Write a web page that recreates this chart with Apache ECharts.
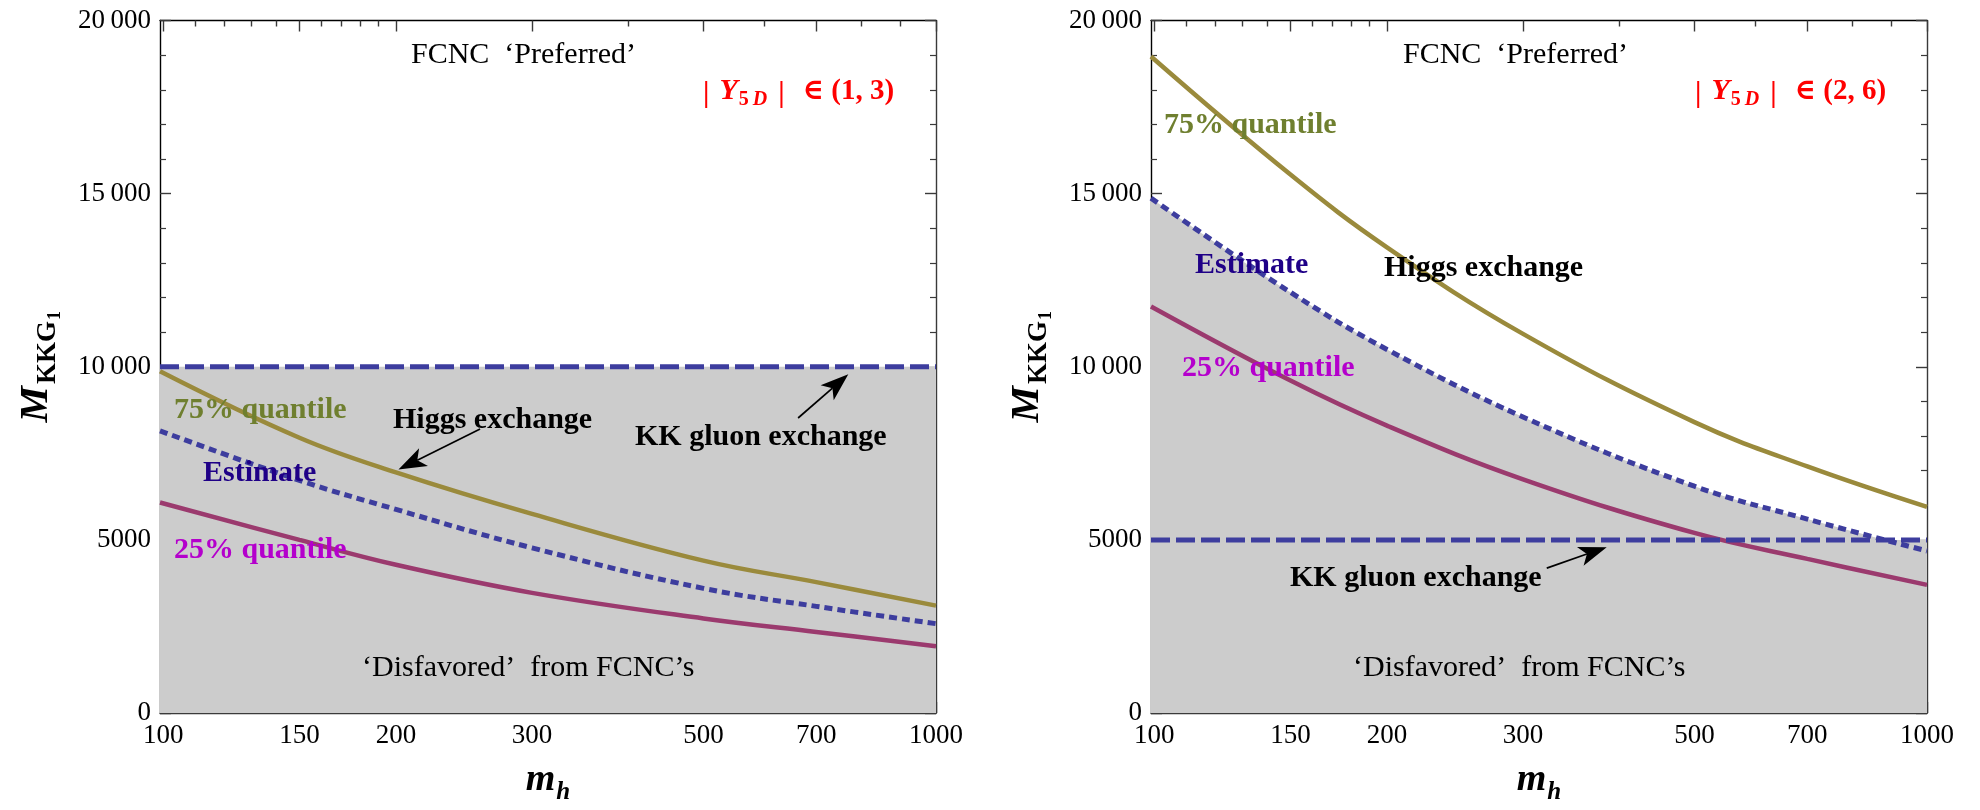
<!DOCTYPE html>
<html><head><meta charset="utf-8">
<script src="https://cdn.jsdelivr.net/npm/echarts@6/dist/echarts.min.js"></script>
<style>html,body{margin:0;padding:0;background:#fff}#c{width:1980px;height:810px}</style>
</head><body><div id="c"></div>
<script>
// ---------------- data ----------------
const mh = [99, 150, 200, 300, 500, 700, 1000];
// Left panel |Y5D| in (1,3)
const q75Left = [9870, 7950, 6950, 5750, 4400, 3780, 3100];
const estLeft = [8150, 6720, 5880, 4770, 3600, 3080, 2580];
const q25Left = [6080, 5000, 4280, 3470, 2730, 2340, 1930];
const kkLeft = 10000;
// Right panel |Y5D| in (2,6)
const q75Right = [18960, 15550, 13450, 10950, 8400, 7120, 5950];
const estRight = [14870, 12150, 10500, 8550, 6550, 5600, 4680];
const q25Right = [11740, 9600, 8300, 6750, 5200, 4450, 3700];
const kkRight = 5000;
// ticks
const xMajorTicks = [100, 150, 200, 300, 500, 700, 1000];
const xMinorTicks = [110, 120, 130, 140, 160, 170, 180, 190, 400, 600, 800, 900];
const yRange = [0, 20000];
const yStep = 5000;
const rangeLabels = ['(1, 3)', '(2, 6)'];

// ---------------- styles ----------------
const SERIF = "'Liberation Serif', 'DejaVu Serif', serif";
const FRAME = '#3a3a3a';
const FILL = '#cccccc';
const C75 = '#9a8a3c', C25 = '#9b3a6e', CBLUE = '#3d3d9e';
const T75 = '#6f7f2f', T25 = '#b400cc', TEST = '#1f0087';

const chart = echarts.init(document.getElementById('c'), null, {renderer: 'canvas'});
const zip = (xs, ys) => xs.map((x, i) => [x, ys[i]]);
const fmtY = v => v >= 10000 ? String(v).slice(0, -3) + '\u2009' + String(v).slice(-3) : String(v);

const grids = [
  {left: 160, top: 20.5, width: 776, height: 697},
  {left: 1151, top: 20.5, width: 776, height: 697}
];

function xAxes(g) {
  const base = {type: 'log', logBase: 10, gridIndex: g, min: 99, max: 1000,
    splitLine: {show: false}, minorTick: {show: false}, minorSplitLine: {show: false}};
  const tickStyle = {color: FRAME, width: 1.4};
  return [
    Object.assign({}, base, {position: 'bottom',
      axisLine: {show: true, onZero: false, lineStyle: {color: FRAME, width: 1.4}},
      axisTick: {show: true, inside: true, length: 11, customValues: xMajorTicks, lineStyle: tickStyle},
      axisLabel: {show: true, customValues: xMajorTicks, formatter: v => String(Math.round(v)),
        fontFamily: SERIF, fontSize: 27, color: '#000', margin: 9},
      name: '{m|m}{h|h}', nameLocation: 'middle', nameGap: 48,
      nameTextStyle: {rich: {
        m: {fontFamily: SERIF, fontSize: 38, fontWeight: 'bold', fontStyle: 'italic', color: '#000', verticalAlign: 'bottom', padding: [0, 0, 6, 0]},
        h: {fontFamily: SERIF, fontSize: 25, fontWeight: 'bold', fontStyle: 'italic', color: '#000', verticalAlign: 'bottom', padding: [0, 0, 0, 1]}
      }}}),
    Object.assign({}, base, {position: 'bottom',
      axisLine: {show: false, onZero: false},
      axisTick: {show: true, inside: true, length: 6, customValues: xMinorTicks, lineStyle: tickStyle},
      axisLabel: {show: false}}),
    Object.assign({}, base, {position: 'top',
      axisLine: {show: true, onZero: false, lineStyle: {color: '#000', width: 1.4}},
      axisTick: {show: true, inside: true, length: 11, customValues: xMajorTicks, lineStyle: tickStyle},
      axisLabel: {show: false}}),
    Object.assign({}, base, {position: 'top',
      axisLine: {show: false, onZero: false},
      axisTick: {show: true, inside: true, length: 6, customValues: xMinorTicks, lineStyle: tickStyle},
      axisLabel: {show: false}})
  ];
}

function yAxes(g) {
  const base = {type: 'value', gridIndex: g, min: yRange[0], max: yRange[1], interval: yStep,
    splitLine: {show: false},
    minorTick: {show: true, splitNumber: 5, length: 6, lineStyle: {color: FRAME, width: 1.2}},
    axisTick: {show: true, inside: true, length: 11, lineStyle: {color: FRAME, width: 1.4}}};
  return [
    Object.assign({}, base, {position: 'left',
      axisLine: {show: true, onZero: false, lineStyle: {color: '#000', width: 1.4}},
      axisLabel: {formatter: fmtY, fontFamily: SERIF, fontSize: 27, color: '#000', margin: 9},
      name: '{M|M}{s|KKG}{ss|1}', nameLocation: 'middle', nameRotate: 90, nameGap: 96,
      nameTextStyle: {rich: {
        M: {fontFamily: SERIF, fontSize: 41, fontWeight: 'bold', fontStyle: 'italic', color: '#000', verticalAlign: 'bottom', padding: [0, 2, 7, 0]},
        s: {fontFamily: SERIF, fontSize: 27, fontWeight: 'bold', color: '#000', verticalAlign: 'bottom', padding: [0, 0, 2, 0]},
        ss: {fontFamily: SERIF, fontSize: 18, fontWeight: 'bold', color: '#000', verticalAlign: 'bottom', padding: [0, 0, 0, 1]}
      }}}),
    Object.assign({}, base, {position: 'right',
      axisLine: {show: true, onZero: false, lineStyle: {color: FRAME, width: 1.4}},
      axisLabel: {show: false}})
  ];
}

function panelSeries(g, q75, est, q25, kk) {
  const xi = g * 4, yi = g * 2;
  const common = {type: 'line', xAxisIndex: xi, yAxisIndex: yi, showSymbol: false, symbol: 'none', silent: true, animation: false};
  const kkData = [[mh[0], kk], [mh[mh.length - 1], kk]];
  return [
    Object.assign({}, common, {name: 'fillEst', data: zip(mh, est), smooth: 0.4,
      lineStyle: {width: 0, opacity: 0}, areaStyle: {color: FILL, opacity: 1}}),
    Object.assign({}, common, {name: 'fillKK', data: kkData,
      lineStyle: {width: 0, opacity: 0}, areaStyle: {color: FILL, opacity: 1}}),
    Object.assign({}, common, {name: '75% quantile', data: zip(mh, q75), smooth: 0.4,
      lineStyle: {color: C75, width: 4.5}}),
    Object.assign({}, common, {name: '25% quantile', data: zip(mh, q25), smooth: 0.4,
      lineStyle: {color: C25, width: 4.5}}),
    Object.assign({}, common, {name: 'KK gluon exchange', data: kkData,
      lineStyle: {color: CBLUE, width: 5, type: [19, 6], cap: 'butt'}}),
    Object.assign({}, common, {name: 'Estimate', data: zip(mh, est), smooth: 0.4,
      lineStyle: {color: CBLUE, width: 5, type: [8, 5], cap: 'butt'}})
  ];
}

chart.setOption({
  backgroundColor: '#ffffff',
  animation: false,
  grid: grids,
  xAxis: xAxes(0).concat(xAxes(1)),
  yAxis: yAxes(0).concat(yAxes(1)),
  series: panelSeries(0, q75Left, estLeft, q25Left, kkLeft)
    .concat(panelSeries(1, q75Right, estRight, q25Right, kkRight))
});

// ---------------- annotations ----------------
function txt(text, x, y, opt) {
  return {type: 'text', x: x, y: y, z: 100, silent: true,
    style: Object.assign({text: text, fontFamily: SERIF, fontSize: 30, fill: '#000',
      align: 'left', verticalAlign: 'middle'}, opt || {})};
}
function redLabel(range, x, y) {
  return {type: 'text', x: x, y: y, z: 100, silent: true,
    style: {text: '{b||}{Y|Y}{s|5}{d|D}{b||}{t|\u2208 ' + range + '}', align: 'left', verticalAlign: 'middle',
      rich: {
        b: {fontFamily: SERIF, fontSize: 29, fontWeight: 'bold', fill: '#ff0000', padding: [0, 10, 0, 0], verticalAlign: 'bottom'},
        Y: {fontFamily: SERIF, fontSize: 30, fontWeight: 'bold', fontStyle: 'italic', fill: '#ff0000', padding: [0, 1, 3, 0], verticalAlign: 'bottom'},
        s: {fontFamily: SERIF, fontSize: 20, fontWeight: 'bold', fill: '#ff0000', padding: [0, 4, 0, 0], verticalAlign: 'bottom'},
        d: {fontFamily: SERIF, fontSize: 20, fontWeight: 'bold', fontStyle: 'italic', fill: '#ff0000', padding: [0, 11, 0, 0], verticalAlign: 'bottom'},
        t: {fontFamily: SERIF, fontSize: 29, fontWeight: 'bold', fill: '#ff0000', padding: [0, 0, 3, 8], verticalAlign: 'bottom'}
      }}};
}
function arrow(g, tail, tip) {
  const p0 = chart.convertToPixel({xAxisIndex: g * 4, yAxisIndex: g * 2}, tail);
  const p1 = chart.convertToPixel({xAxisIndex: g * 4, yAxisIndex: g * 2}, tip);
  const dx = p1[0] - p0[0], dy = p1[1] - p0[1], len = Math.hypot(dx, dy);
  const ux = dx / len, uy = dy / len, nx = -uy, ny = ux;
  const L = 28, W = 10, notch = 7;
  const bx = p1[0] - ux * L, by = p1[1] - uy * L;
  const mx = p1[0] - ux * (L - notch), my = p1[1] - uy * (L - notch);
  return [
    {type: 'line', z: 100, silent: true, shape: {x1: p0[0], y1: p0[1], x2: mx, y2: my}, style: {stroke: '#000', lineWidth: 1.7}},
    {type: 'polygon', z: 100, silent: true, shape: {points: [[p1[0], p1[1]], [bx + nx * W, by + ny * W], [mx, my], [bx - nx * W, by - ny * W]]}, style: {fill: '#000'}}
  ];
}

const B = {fontWeight: 'bold'};
const graphics = [
  // left panel
  txt('FCNC  \u2018Preferred\u2019', 411, 55),
  redLabel(rangeLabels[0], 703, 93),
  txt('75% quantile', 174, 410, Object.assign({fill: T75}, B)),
  txt('Higgs exchange', 393, 420, B),
  txt('Estimate', 203, 473, Object.assign({fill: TEST}, B)),
  txt('25% quantile', 174, 550, Object.assign({fill: T25}, B)),
  txt('KK gluon exchange', 635, 437, B),
  txt('\u2018Disfavored\u2019  from FCNC\u2019s', 362, 668),
  // right panel
  txt('FCNC  \u2018Preferred\u2019', 1403, 55),
  redLabel(rangeLabels[1], 1695, 93),
  txt('75% quantile', 1164, 125, Object.assign({fill: T75}, B)),
  txt('Estimate', 1195, 265, Object.assign({fill: TEST}, B)),
  txt('Higgs exchange', 1384, 268, B),
  txt('25% quantile', 1182, 368, Object.assign({fill: T25}, B)),
  txt('KK gluon exchange', 1290, 578, B),
  txt('\u2018Disfavored\u2019  from FCNC\u2019s', 1353, 668)
].concat(
  arrow(0, [257, 8200], [201.5, 7030]),
  arrow(0, [663, 8520], [770, 9780]),
  arrow(1, [322, 4185], [385, 4790])
);
chart.setOption({graphic: {elements: graphics}});
</script>
</body></html>
